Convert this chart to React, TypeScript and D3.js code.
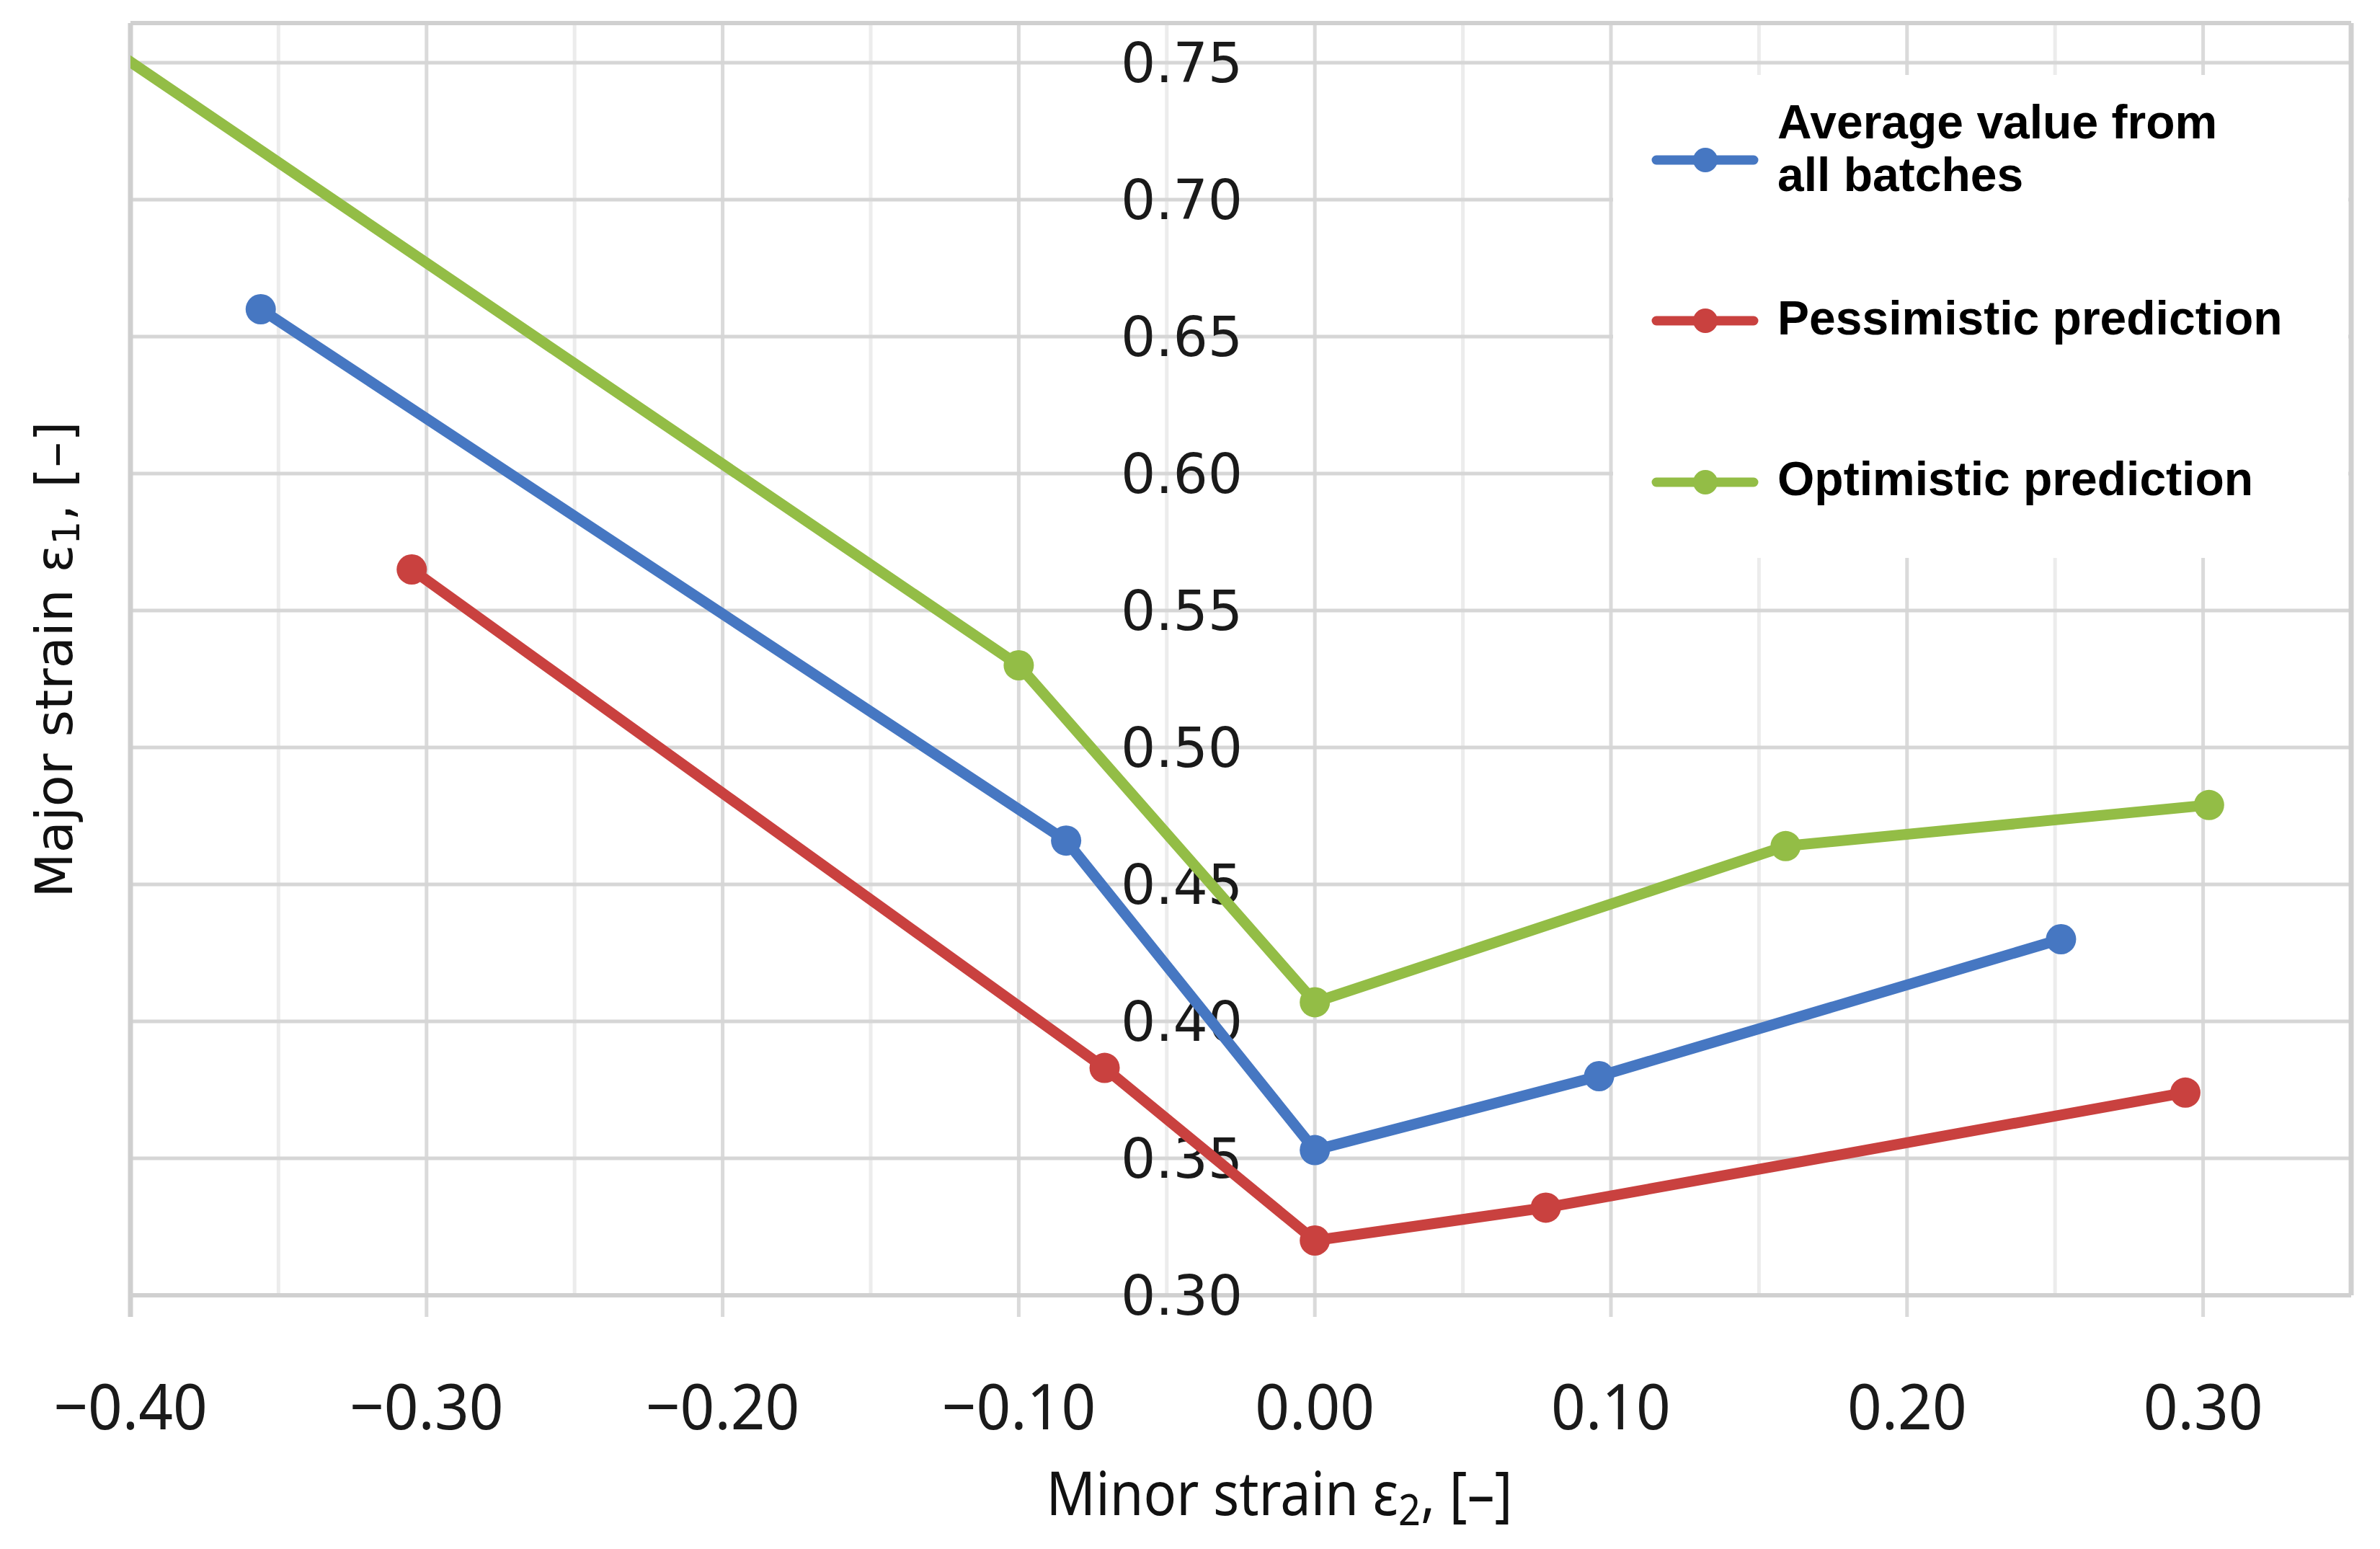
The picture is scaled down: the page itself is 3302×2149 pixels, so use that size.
import React from "react";
import * as d3 from "d3";

const W = 3302;
const H = 2149;

// series
const avgX = [-0.356, -0.084, 0.0, 0.096, 0.252];
const avgY = [0.66, 0.466, 0.353, 0.38, 0.43];
const pesX = [-0.305, -0.071, 0.0, 0.078, 0.294];
const pesY = [0.565, 0.383, 0.32, 0.332, 0.374];
// first optimistic point lies just outside the plot and is clipped
const optX = [-0.42, -0.1, 0.0, 0.159, 0.302];
const optY = [0.765, 0.53, 0.407, 0.464, 0.479];

const seriesNames = ["Average value from all batches", "Pessimistic prediction", "Optimistic prediction"];
const seriesColors = ["#4677c2", "#c9413f", "#93bd46"];

const yTicks = [0.3, 0.35, 0.4, 0.45, 0.5, 0.55, 0.6, 0.65, 0.7, 0.75];
const xMajor = [-0.4, -0.3, -0.2, -0.1, 0.0, 0.1, 0.2, 0.3];
const xMinor = [-0.35, -0.25, -0.15, -0.05, 0.05, 0.15, 0.25];

const x = d3.scaleLinear().domain([-0.4, 0.35]).range([181, 3262]);
const y = d3.scaleLinear().domain([0.3, 0.75]).range([1797, 87]);
const plotTop = 32;

const fmtX = (v: number) => (v < 0 ? "\u2212" : "") + d3.format(".2f")(Math.abs(v));
const fmtY = d3.format(".2f");

const line = d3
  .line<[number, number]>()
  .x((d) => x(d[0]))
  .y((d) => y(d[1]));

const zip = (xs: number[], ys: number[]) => xs.map((v, i) => [v, ys[i]] as [number, number]);

export default function App() {
  const series = [zip(avgX, avgY), zip(pesX, pesY), zip(optX, optY)];
  const [x0, x1] = x.range();
  const yBottom = y(0.3);

  // legend box sits over the top-right of the grid
  const legend = { x: 2238, y: 104, w: 1020, h: 670 };
  const legendItems = [
    { lines: ["Average value from", "all batches"], baselines: [192, 265], sy: 222 },
    { lines: ["Pessimistic prediction"], baselines: [464], sy: 445 },
    { lines: ["Optimistic prediction"], baselines: [687], sy: 669 },
  ];

  return (
    <svg
      width={W}
      height={H}
      viewBox={`0 0 ${W} ${H}`}
      style={{ position: "absolute", left: 0, top: 0, background: "#fff" }}
    >
      <defs>
        <clipPath id="plot-clip">
          <rect x={x0} y={plotTop} width={x1 - x0} height={yBottom - plotTop} />
        </clipPath>
      </defs>
      <rect width={W} height={H} fill="#fff" />

      {/* minor vertical gridlines */}
      {xMinor.map((v) => (
        <line key={"mn" + v} x1={x(v)} x2={x(v)} y1={plotTop} y2={yBottom} stroke="#ececec" strokeWidth={5} />
      ))}
      {/* major vertical gridlines with outward ticks */}
      {xMajor.map((v) => (
        <line key={"mj" + v} x1={x(v)} x2={x(v)} y1={plotTop} y2={yBottom + 30} stroke="#dadada" strokeWidth={5} />
      ))}
      {/* horizontal gridlines */}
      {yTicks.map((v) => (
        <line key={"h" + v} x1={x0} x2={x1} y1={y(v)} y2={y(v)} stroke="#d6d6d6" strokeWidth={5} />
      ))}

      {/* frame */}
      <line x1={x0} x2={x1} y1={plotTop} y2={plotTop} stroke="#d0d0d0" strokeWidth={6} />
      <line x1={x0} x2={x0} y1={plotTop} y2={yBottom + 30} stroke="#cfcfcf" strokeWidth={7} />
      <line x1={x1} x2={x1} y1={plotTop} y2={yBottom} stroke="#d0d0d0" strokeWidth={7} />
      <line x1={x0} x2={x1} y1={yBottom} y2={yBottom} stroke="#d0d0d0" strokeWidth={6} />

      {/* legend background */}
      <rect x={legend.x} y={legend.y} width={legend.w} height={legend.h} fill="#fff" />

      {/* y tick labels next to the axis at x = 0 */}
      {yTicks.map((v) => (
        <text
          key={"yl" + v}
          x={x(0) - 100}
          y={y(v)}
          dy="0.36em"
          textAnchor="end"
          fontFamily="DejaVu Sans, Verdana, sans-serif"
          fontSize={76}
          fill="#1a1a1a"
        >
          {fmtY(v)}
        </text>
      ))}

      {/* x tick labels */}
      {xMajor.map((v) => (
        <text
          key={"xl" + v}
          transform={`translate(${x(v)}, 1983) scale(0.95, 1)`}
          textAnchor="middle"
          fontFamily="Noto Sans, Open Sans, sans-serif"
          fontSize={88}
          fill="#1a1a1a"
        >
          {fmtX(v)}
        </text>
      ))}

      {/* series */}
      <g clipPath="url(#plot-clip)">
        {series.map((pts, i) => (
          <g key={"s" + i}>
            <path
              d={line(pts) || ""}
              fill="none"
              stroke={seriesColors[i]}
              strokeWidth={15}
              strokeLinejoin="round"
              strokeLinecap="round"
            />
            {pts.map((p, j) => (
              <circle key={j} cx={x(p[0])} cy={y(p[1])} r={21} fill={seriesColors[i]} />
            ))}
          </g>
        ))}
      </g>

      {/* legend */}
      {legendItems.map((it, i) => (
        <g key={"lg" + i}>
          <line x1={2298} x2={2433} y1={it.sy} y2={it.sy} stroke={seriesColors[i]} strokeWidth={13} strokeLinecap="round" />
          <circle cx={2366} cy={it.sy} r={17} fill={seriesColors[i]} />
          <text fontFamily="Liberation Sans, Arial, sans-serif" fontWeight="bold" fontSize={66} fill="#000">
            {it.lines.map((t, k) => (
              <tspan key={k} x={2466} y={it.baselines[k]}>
                {t}
              </tspan>
            ))}
          </text>
          <title>{seriesNames[i]}</title>
        </g>
      ))}

      {/* axis titles */}
      <text
        transform="translate(1775, 2102) scale(0.9, 1)"
        textAnchor="middle"
        fontFamily="Noto Sans, Open Sans, sans-serif"
        fontSize={84}
        fill="#111"
      >
        Minor strain ε
        <tspan fontSize={60} dy={14}>2</tspan>
        <tspan dy={-14}>, [–]</tspan>
      </text>
      <text
        transform={`translate(100, 915) rotate(-90)`}
        textAnchor="middle"
        fontFamily="DejaVu Sans, Verdana, sans-serif"
        fontSize={72}
        fill="#111"
      >
        Major strain ε
        <tspan fontSize={52} dy={10}>1</tspan>
        <tspan dy={-10}>, [–]</tspan>
      </text>
    </svg>
  );
}
